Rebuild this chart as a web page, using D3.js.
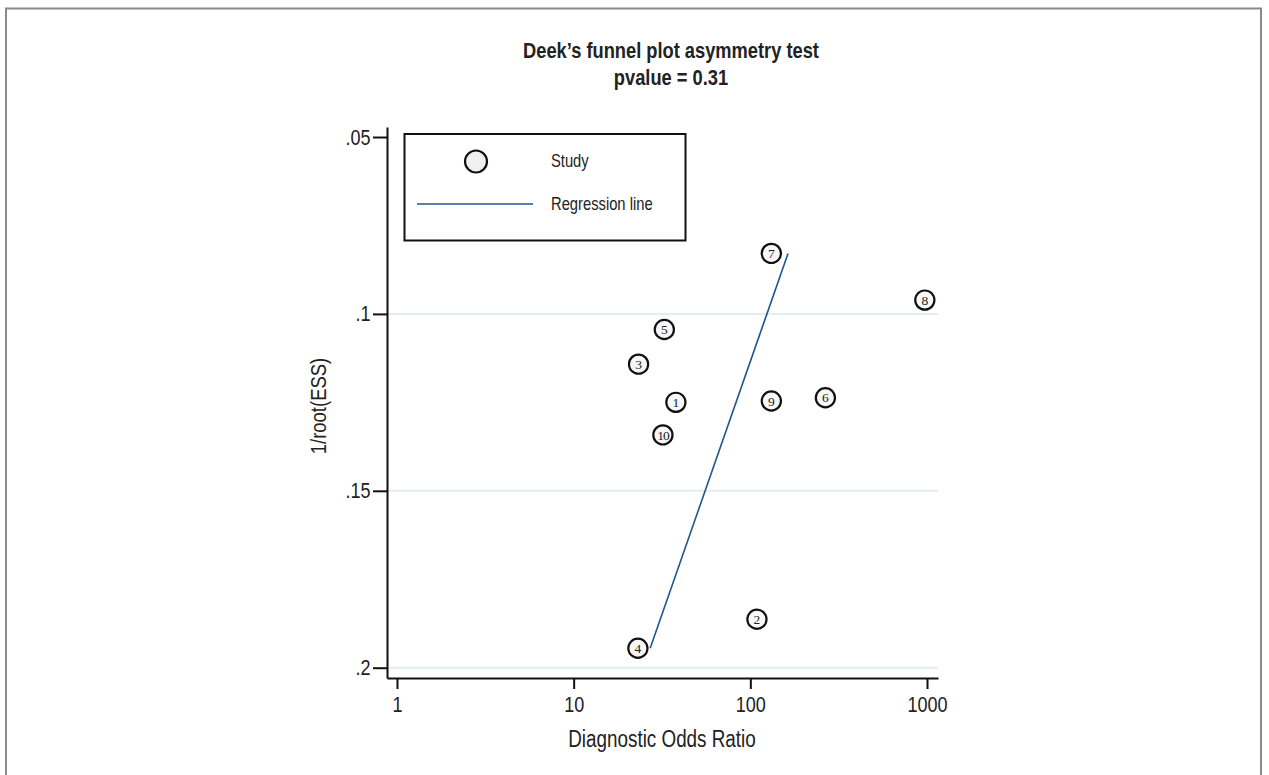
<!DOCTYPE html>
<html>
<head>
<meta charset="utf-8">
<script src="https://cdn.jsdelivr.net/npm/d3@7"></script>
<style>
  html, body { margin: 0; padding: 0; background: #fff; }
  svg { display: block; font-family: "Liberation Sans", Arial, sans-serif; }
</style>
</head>
<body>
<svg id="chart" width="1269" height="775"></svg>
<script>
// Study-level results: diagnostic odds ratio and 1/sqrt(effective sample size)
const studyIds   = [1, 2, 3, 4, 5, 6, 7, 8, 9, 10];
const dorValues  = [37.9, 109, 23.3, 23.1, 32.6, 266, 131.5, 972, 131.5, 32.0];
const invRootEss = [0.1250, 0.1863, 0.1142, 0.1945, 0.1044, 0.1237, 0.0829, 0.0961, 0.1246, 0.1342];

// Fitted Deeks regression line, evaluated at the extremes of 1/root(ESS)
const regressionEss = [0.0829, 0.1945];
const regressionDor = [163.5, 27.1];

// Axis ticks
const xTicks = [1, 10, 100, 1000];
const yTicks = [0.05, 0.1, 0.15, 0.2];
const gridTicks = [0.1, 0.15, 0.2];

const titleLines = ["Deek\u2019s funnel plot asymmetry test", "pvalue = 0.31"];

// Horizontal squeeze applied to text, giving a condensed sans look
const NARROW = 0.82;

const svg = d3.select("#chart");

// Outer frame
svg.append("path")
  .attr("d", "M6,776 L6,8.5 L1261,8.5 L1261,776")
  .attr("fill", "none")
  .attr("stroke", "#8a8a8a")
  .attr("stroke-width", 2);

const plot = { left: 387, right: 938, top: 127, bottom: 678 };

const x = d3.scaleLog().domain([0.878, 1154]).range([plot.left, plot.right]);
const y = d3.scaleLinear().domain([0.04717, 0.20291]).range([plot.top, plot.bottom]);

// Title
svg.append("g").selectAll("text").data(titleLines).join("text")
  .attr("transform", (d, i) => `translate(671,${58 + i * 27}) scale(${NARROW},1)`)
  .attr("text-anchor", "middle")
  .attr("font-weight", "bold")
  .attr("font-size", 22.3)
  .attr("fill", "#222")
  .text(d => d);

// Horizontal gridlines
svg.append("g").selectAll("line").data(gridTicks).join("line")
  .attr("x1", plot.left).attr("x2", plot.right)
  .attr("y1", d => y(d)).attr("y2", d => y(d))
  .attr("stroke", "#e0edf2")
  .attr("stroke-width", 2);

// Axes
const fmtY = d => d3.format(".2~f")(d).replace(/^0/, "");
const yTickSize = 14, yTickPad = 2.5;
const yAxis = svg.append("g")
  .attr("transform", `translate(${plot.left},0)`)
  .call(d3.axisLeft(y).tickValues(yTicks).tickFormat(fmtY).tickSize(yTickSize).tickSizeOuter(0).tickPadding(yTickPad));

const xAxis = svg.append("g")
  .attr("transform", `translate(0,${plot.bottom})`)
  .call(d3.axisBottom(x).tickValues(xTicks).tickFormat(d3.format("d")).tickSize(11).tickSizeOuter(0).tickPadding(7));

[yAxis, xAxis].forEach(g => {
  g.select(".domain").attr("stroke", "#111").attr("stroke-width", 2);
  g.selectAll(".tick line").attr("stroke", "#111").attr("stroke-width", 2);
  g.selectAll(".tick text")
    .attr("font-family", "'Liberation Sans', Arial, sans-serif")
    .attr("font-size", 22)
    .attr("fill", "#222")
    .attr("transform", `scale(${NARROW},1)`);
});
yAxis.selectAll(".tick text").attr("x", -(yTickSize + yTickPad) / NARROW);

// Axis titles
svg.append("text")
  .attr("transform", `translate(662,747) scale(${NARROW},1)`)
  .attr("text-anchor", "middle")
  .attr("font-size", 23)
  .attr("fill", "#222")
  .text("Diagnostic Odds Ratio");

svg.append("text")
  .attr("transform", `translate(326,406) rotate(-90) scale(${NARROW},1)`)
  .attr("text-anchor", "middle")
  .attr("font-size", 22.5)
  .attr("fill", "#222")
  .text("1/root(ESS)");

// Regression line
const regData = regressionEss.map((e, i) => ({ ess: e, dor: regressionDor[i] }));
svg.append("path")
  .datum(regData)
  .attr("fill", "none")
  .attr("stroke", "#23568a")
  .attr("stroke-width", 1.6)
  .attr("d", d3.line().x(d => x(d.dor)).y(d => y(d.ess)));

// Study markers
const studies = studyIds.map((id, i) => ({ id, dor: dorValues[i], ess: invRootEss[i] }));
const marks = svg.append("g").selectAll("g").data(studies).join("g")
  .attr("transform", d => `translate(${x(d.dor)},${y(d.ess)})`);
marks.append("circle")
  .attr("r", 9.6)
  .attr("fill", "#f7f7f7")
  .attr("stroke", "#111")
  .attr("stroke-width", 2.2);
marks.append("text")
  .attr("text-anchor", "middle")
  .attr("dy", "0.34em")
  .attr("font-family", "'Liberation Serif', 'Times New Roman', serif")
  .attr("font-size", 13.5)
  .attr("fill", "#222")
  .attr("letter-spacing", d => d.id > 9 ? -1 : 0)
  .text(d => d.id);

// Legend
const legend = svg.append("g");
legend.append("rect")
  .attr("x", 404.5).attr("y", 134).attr("width", 281).attr("height", 106.5)
  .attr("fill", "#fff")
  .attr("stroke", "#111")
  .attr("stroke-width", 2);
legend.append("circle")
  .attr("cx", 476).attr("cy", 161.5).attr("r", 11)
  .attr("fill", "#f0f0f0")
  .attr("stroke", "#111")
  .attr("stroke-width", 2.2);
legend.append("line")
  .attr("x1", 417).attr("x2", 533).attr("y1", 204).attr("y2", 204)
  .attr("stroke", "#23568a").attr("stroke-width", 1.6);
legend.selectAll("text.lbl").data(["Study", "Regression line"]).join("text")
  .attr("class", "lbl")
  .attr("transform", (d, i) => `translate(551,${167 + i * 43}) scale(${NARROW},1)`)
  .attr("font-size", 18)
  .attr("fill", "#222")
  .text(d => d);
</script>
</body>
</html>
